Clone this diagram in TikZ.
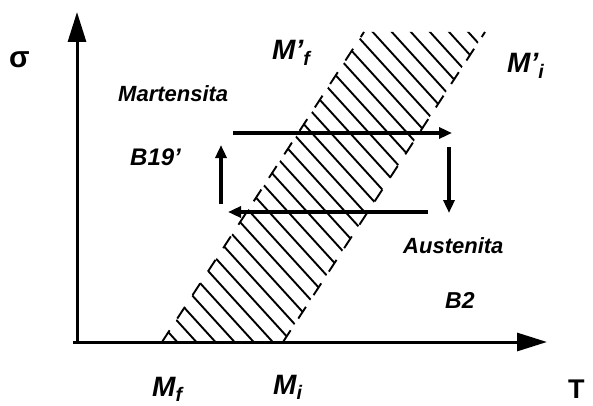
\documentclass[tikz,border=0pt]{standalone}
\usepackage{fontspec}
\setmainfont{Liberation Sans}
\usetikzlibrary{arrows.meta, positioning}

\begin{document}
\begin{tikzpicture}[x=1pt, y=-1pt,
    lbl/.style={anchor=base west, inner sep=0pt, font=\fontsize{22}{24}\selectfont\bfseries\itshape},
    mlbl/.style={lbl, font=\fontsize{28}{30}\selectfont\bfseries\itshape},
    axisline/.style={line width=3pt, -{Triangle[length=30pt, width=18pt]}},
    transarrow/.style={line width=3.5pt, -{Triangle[length=13pt, width=11pt]}},
    hatch/.style={line width=1.9pt}]
  \useasboundingbox (0,0) rectangle (593,406);

  % axes
  \coordinate (xstart) at (73,342);
  \coordinate (xend) at (547,342);
  \coordinate (ystart) at (77,344);
  \coordinate (yend) at (77,12);

  % transformation band
  \coordinate (bl) at (162,342);
  \coordinate (br) at (283,342);
  \coordinate (tr) at (485,32);
  \coordinate (tl) at (364,32);
  \begin{scope}
    \clip (bl) -- (br) -- (tr) -- (tl) -- cycle;
    \foreach \c in {-504,-483,...,168}
      \draw[hatch] (100,{110+(\c)}) -- (600,{660+(\c)});
  \end{scope}
  \draw[hatch, dash pattern=on 14pt off 14pt] (bl) -- (tl);
  \draw[hatch, dash pattern=on 14pt off 14pt] (br) -- (tr);

  \draw[axisline] (ystart) -- (yend);
  \draw[axisline] (xstart) -- (xend);

  % loading cycle
  \coordinate (t1) at (233,133);
  \coordinate (t2) at (452,133);
  \coordinate (r1) at (449,147);
  \coordinate (r2) at (449,213);
  \coordinate (b1) at (428,212);
  \coordinate (b2) at (228,212);
  \coordinate (l1) at (221,204);
  \coordinate (l2) at (221,145);
  \draw[transarrow] (t1) -- (t2);
  \draw[transarrow] (r1) -- (r2);
  \draw[transarrow] (b1) -- (b2);
  \draw[transarrow] (l1) -- (l2);

  % labels
  \node[lbl, font=\fontsize{30}{32}\selectfont\bfseries] (sigma) at (9,68) {σ};
  \node[lbl] (mart) at (118,102) {Martensita};
  \node[lbl, font=\fontsize{24}{26}\selectfont\bfseries\itshape] (b19) at (130,165) {B19’};
  \node[lbl] (aust) at (403,253) {Austenita};
  \node[lbl, font=\fontsize{23}{25}\selectfont\bfseries\itshape] (btwo) at (445,308) {B2};
  \node[mlbl] (mfp) at (272,60) {M’\textsubscript{f}};
  \node[mlbl] (mip) at (507,73) {M’\textsubscript{i}};
  \node[mlbl] (mf) at (152,396) {M\textsubscript{f}};
  \node[mlbl] (mi) at (273,394) {M\textsubscript{i}};
  \node[lbl, font=\fontsize{27}{29}\selectfont\bfseries] (temp) at (568,398) {T};
\end{tikzpicture}
\end{document}
